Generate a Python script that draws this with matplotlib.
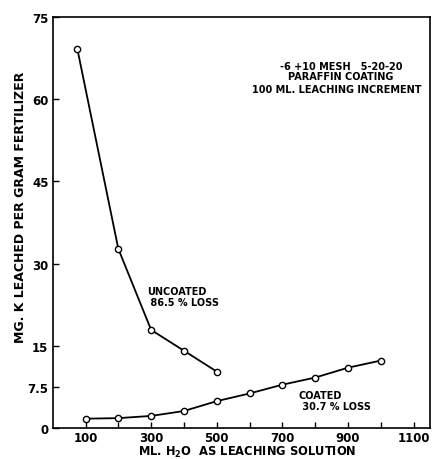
import matplotlib
matplotlib.use('Agg')
import matplotlib.pyplot as plt

# leaching data
uncoated_ml = [75, 200, 300, 400, 500]
uncoated_k = [69.2, 32.7, 17.9, 14.1, 10.3]
coated_ml = [100, 200, 300, 400, 500, 600, 700, 800, 900, 1000]
coated_k = [1.7, 1.8, 2.2, 3.1, 4.9, 6.3, 7.9, 9.2, 11.0, 12.3]

x_ticks = [100, 200, 300, 400, 500, 600, 700, 800, 900, 1000, 1100]
x_labels = ['100', '', '300', '', '500', '', '700', '', '900', '', '1100']
y_ticks = [0, 7.5, 15, 30, 45, 60, 75]
y_labels = ['0', '7.5', '15', '30', '45', '60', '75']

plt.rcParams['font.family'] = ['DejaVu Sans']
plt.rcParams['font.weight'] = 'bold'

fig = plt.figure(figsize=(4.33, 4.6), dpi=100)
ax = fig.add_axes([0.1217, 0.0674, 0.8713, 0.8936])

line_kw = dict(color='black', lw=1.3, marker='o', markersize=4.5,
               markerfacecolor='white', markeredgecolor='black', markeredgewidth=1.0)
ax.plot(uncoated_ml, uncoated_k, **line_kw)
ax.plot(coated_ml, coated_k, **line_kw)

ax.set_xlim(0, 1150)
ax.set_ylim(0, 75)
ax.set_xticks(x_ticks)
ax.set_xticklabels(x_labels, fontweight='bold')
ax.set_yticks(y_ticks)
ax.set_yticklabels(y_labels, fontweight='bold')
ax.tick_params(direction='in', length=4, width=1, labelsize=8.5, pad=3)
ax.tick_params(axis='x', pad=2)
for s in ax.spines.values():
    s.set_linewidth(1.2)

ax.set_xlabel('ML. H$_2$O  AS LEACHING SOLUTION', fontsize=8.3, fontweight='bold')
ax.set_ylabel('MG. K LEACHED PER GRAM FERTILIZER', fontsize=9, fontweight='bold')
ax.xaxis.set_label_coords(0.515, -0.039)
ax.yaxis.set_label_coords(-0.068, 0.54)

ax.text(0.764, 0.869, '-6 +10 MESH   5-20-20\nPARAFFIN COATING',
        transform=ax.transAxes, ha='center', va='center', fontsize=7,
        fontweight='bold', linespacing=0.95)
ax.text(0.752, 0.825, '100 ML. LEACHING INCREMENT',
        transform=ax.transAxes, ha='center', va='center', fontsize=7, fontweight='bold')
ax.text(0.25, 0.319, 'UNCOATED\n 86.5 % LOSS', transform=ax.transAxes,
        ha='left', va='center', fontsize=7, fontweight='bold', linespacing=1.1)
ax.text(0.652, 0.067, 'COATED\n 30.7 % LOSS', transform=ax.transAxes,
        ha='left', va='center', fontsize=7, fontweight='bold', linespacing=1.1)

fig.savefig('out.png', dpi=100)
